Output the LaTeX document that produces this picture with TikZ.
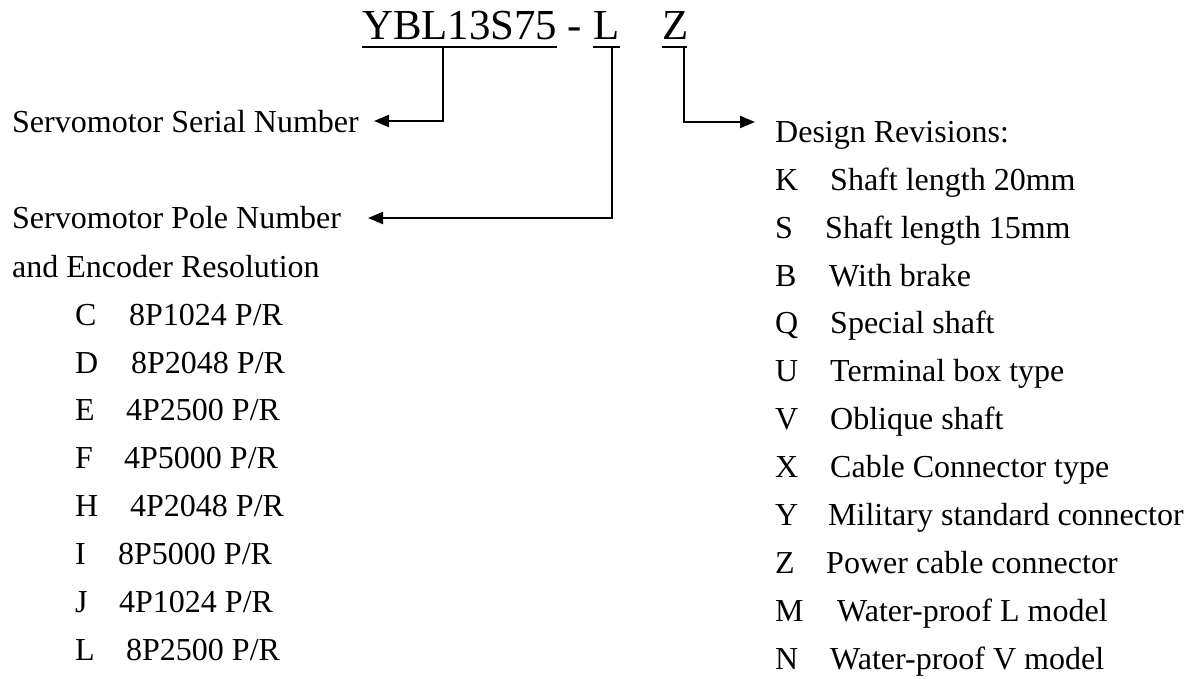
\documentclass[tikz,border=0pt]{standalone}
\usepackage{fontspec}
\setmainfont{Liberation Serif}
\usetikzlibrary{arrows.meta}
\tikzset{
  txt/.style={anchor=base west,inner sep=0pt,font=\fontsize{32}{38}\selectfont},
  ttl/.style={anchor=base west,inner sep=0pt,font=\fontsize{42.8}{50}\selectfont},
  uline/.style={line width=2pt},
  conn/.style={line width=2pt,-{Triangle[length=15pt,width=12pt]}},
}
\begin{document}
\begin{tikzpicture}[x=1pt,y=-1pt]
\useasboundingbox (0,0) rectangle (1202,678);
% title
\node[ttl] (ybl) at (362,39) {YBL13S75};
\node[ttl] (dash) at (567,39) {-};
\node[ttl] (tl) at (593,39) {L};
\node[ttl] (tz) at (662,39) {Z};
\draw[uline] (362,47) -- (557,47);
\draw[uline] (593,47) -- (620,47);
\draw[uline] (662,47) -- (687,47);
\coordinate (u1) at (443,47);
\coordinate (u2) at (612,47);
\coordinate (u3) at (684,47);
% left labels
\node[txt] (serial) at (12,132) {Servomotor Serial Number};
\node[txt] (pole) at (12,228) {Servomotor Pole Number};
\node[txt] (enc) at (12,277) {and Encoder Resolution};
\coordinate (a1) at (374,121);
\coordinate (a2) at (368,218);
\coordinate (a3) at (755,122);
\draw[conn] (u1) |- (a1);
\draw[conn] (u2) |- (a2);
\draw[conn] (u3) |- (a3);
% left list
\foreach \l/\d/\dx/\y in {C/8P1024 P\slash R/129/325, D/8P2048 P\slash R/131/373, E/4P2500 P\slash R/126/420, F/4P5000 P\slash R/124/468, H/4P2048 P\slash R/130/516, I/8P5000 P\slash R/118/564, J/4P1024 P\slash R/119/612, L/8P2500 P\slash R/126/660}{
  \node[txt] (l\l) at (75,\y) {\l};
  \node[txt] (ld\l) at (\dx,\y) {\d};
}
% right list
\node[txt] (design) at (775,142) {Design Revisions:};
\foreach \l/\d/\dx/\y in {K/Shaft length 20mm/830/190, S/Shaft length 15mm/825/238, B/With brake/829/286, Q/Special shaft/830/333, U/Terminal box type/830/381, V/Oblique shaft/830/429, X/Cable Connector type/830/477, Y/Military standard connector/828/525, Z/Power cable connector/826/573, M/Water-proof L model/837/621, N/Water-proof V model/830/669}{
  \node[txt] (r\l) at (775,\y) {\l};
  \node[txt] (rd\l) at (\dx,\y) {\d};
}
\end{tikzpicture}
\end{document}
